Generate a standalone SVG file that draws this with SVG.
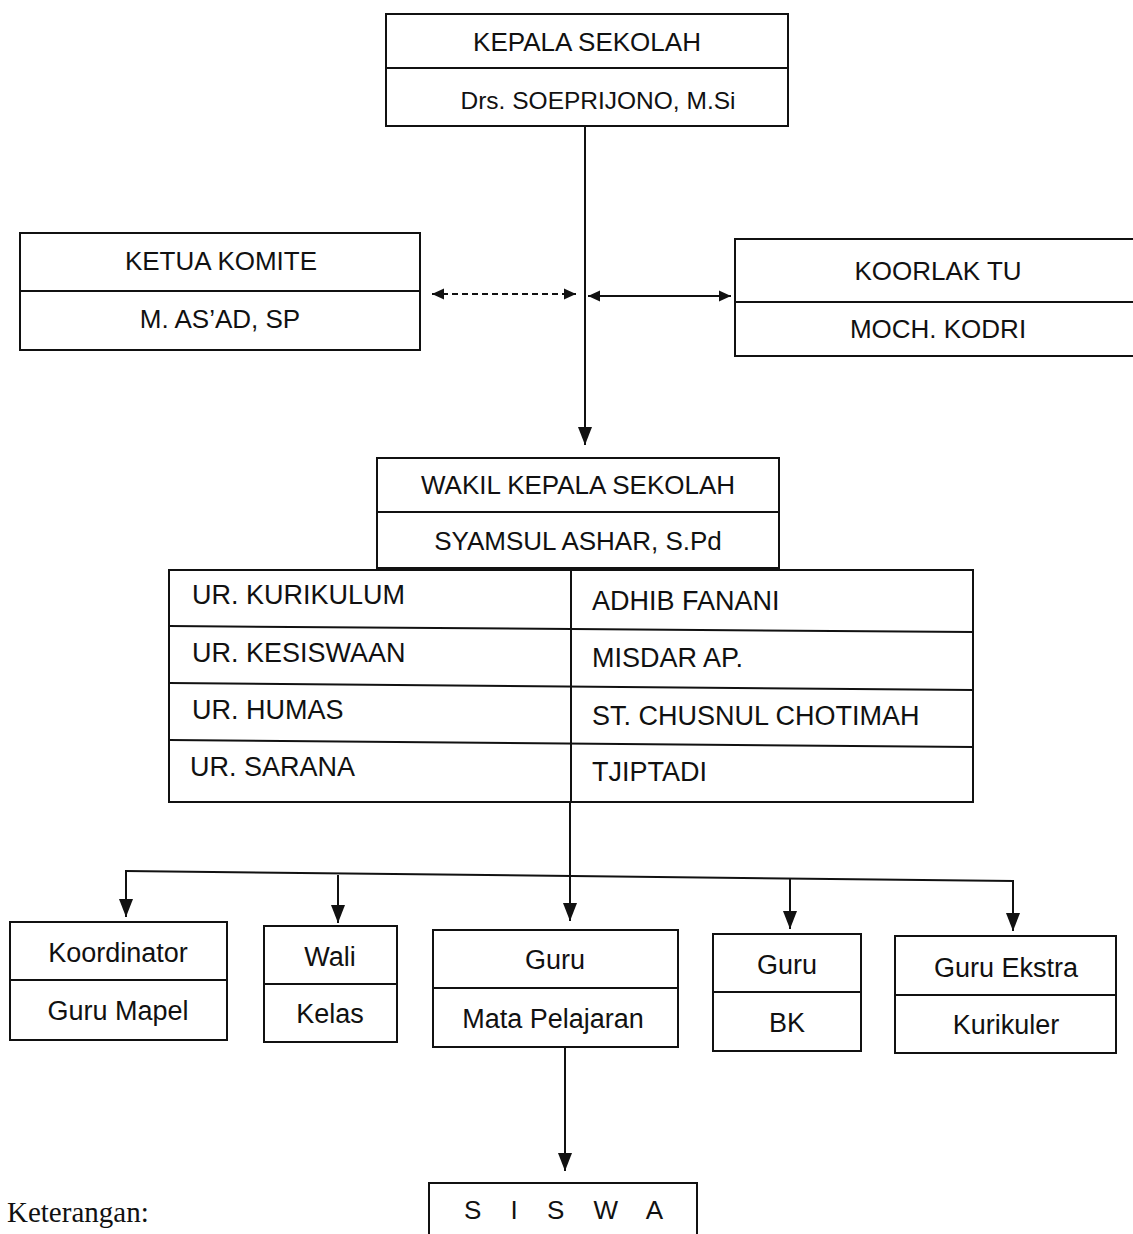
<svg xmlns="http://www.w3.org/2000/svg" width="1133" height="1234" viewBox="0 0 1133 1234">
<style>
.box{fill:#fff;stroke:#111;stroke-width:2}
.div{stroke:#111;stroke-width:2}
.t{font-family:"Liberation Sans",Arial,sans-serif;font-size:26px;fill:#111;text-anchor:middle}
.tb{font-family:"Liberation Sans",Arial,sans-serif;font-size:27px;fill:#111;text-anchor:middle}
.tl{font-family:"Liberation Sans",Arial,sans-serif;font-size:27px;fill:#111}
.c{stroke:#111;stroke-width:2;fill:none}
.d{stroke:#111;stroke-width:2;fill:none;stroke-dasharray:6 4}
</style>
<defs>
<marker id="ah" viewBox="0 0 12 12" refX="12" refY="6" markerWidth="12" markerHeight="12" markerUnits="userSpaceOnUse" orient="auto-start-reverse">
<path d="M0,0.5 L12,6 L0,11.5 Z" fill="#111"/>
</marker>
<marker id="ahd" viewBox="0 0 18 14" refX="18" refY="7" markerWidth="18" markerHeight="14" markerUnits="userSpaceOnUse" orient="auto">
<path d="M0,0 L18,7 L0,14 Z" fill="#111"/>
</marker>
</defs>
<rect width="1133" height="1234" fill="#fff"/>
<g id="connectors">
<line class="c" x1="585" y1="126" x2="585" y2="445" marker-end="url(#ahd)"/>
<line class="d" x1="432" y1="294" x2="576" y2="294" marker-start="url(#ah)" marker-end="url(#ah)"/>
<line class="c" x1="588" y1="296" x2="731" y2="296" marker-start="url(#ah)" marker-end="url(#ah)"/>
<line class="c" x1="570" y1="802" x2="570" y2="921" marker-end="url(#ahd)"/>
<line class="c" x1="125" y1="871" x2="1014" y2="881"/>
<line class="c" x1="126" y1="870" x2="126" y2="917" marker-end="url(#ahd)"/>
<line class="c" x1="338" y1="875" x2="338" y2="923" marker-end="url(#ahd)"/>
<line class="c" x1="790" y1="879" x2="790" y2="929" marker-end="url(#ahd)"/>
<line class="c" x1="1013" y1="880" x2="1013" y2="931" marker-end="url(#ahd)"/>
<line class="c" x1="565" y1="1047" x2="565" y2="1171" marker-end="url(#ahd)"/>
</g>
<g id="kepala">
<rect class="box" x="386" y="14" width="402" height="112"/>
<line class="div" x1="386" y1="68" x2="788" y2="68"/>
<text class="t" x="587" y="51">KEPALA SEKOLAH</text>
<text class="t" x="598" y="109" style="font-size:24.5px">Drs. SOEPRIJONO, M.Si</text>
</g>
<g id="komite">
<rect class="box" x="20" y="233" width="400" height="117"/>
<line class="div" x1="20" y1="291" x2="420" y2="291"/>
<text class="t" x="221" y="270">KETUA KOMITE</text>
<text class="t" x="220" y="328">M. AS’AD, SP</text>
</g>
<g id="koorlak">
<rect class="box" x="735" y="239" width="410" height="117"/>
<line class="div" x1="735" y1="302" x2="1145" y2="302"/>
<text class="t" x="938" y="280">KOORLAK TU</text>
<text class="t" x="938" y="338">MOCH. KODRI</text>
</g>
<g id="wakil">
<rect class="box" x="377" y="458" width="402" height="110"/>
<line class="div" x1="377" y1="512" x2="779" y2="512"/>
<text class="t" x="578" y="494">WAKIL KEPALA SEKOLAH</text>
<text class="t" x="578" y="550">SYAMSUL ASHAR, S.Pd</text>
</g>
<g id="urusan">
<rect class="box" x="169" y="570" width="804" height="232"/>
<line class="div" x1="571" y1="570" x2="571" y2="802"/>
<line class="div" x1="169" y1="626" x2="973" y2="632"/>
<line class="div" x1="169" y1="683" x2="973" y2="690"/>
<line class="div" x1="169" y1="740" x2="973" y2="747"/>
<text class="tl" x="192" y="604">UR. KURIKULUM</text>
<text class="tl" x="192" y="662">UR. KESISWAAN</text>
<text class="tl" x="192" y="719">UR. HUMAS</text>
<text class="tl" x="190" y="776">UR. SARANA</text>
<text class="tl" x="592" y="610">ADHIB FANANI</text>
<text class="tl" x="592" y="667">MISDAR AP.</text>
<text class="tl" x="592" y="725">ST. CHUSNUL CHOTIMAH</text>
<text class="tl" x="592" y="781">TJIPTADI</text>
</g>
<g id="koordinator">
<rect class="box" x="10" y="922" width="217" height="118"/>
<line class="div" x1="10" y1="980" x2="227" y2="980"/>
<text class="tb" x="118" y="962">Koordinator</text>
<text class="tb" x="118" y="1020">Guru Mapel</text>
</g>
<g id="wali">
<rect class="box" x="264" y="926" width="133" height="116"/>
<line class="div" x1="264" y1="984" x2="397" y2="984"/>
<text class="tb" x="330" y="966">Wali</text>
<text class="tb" x="330" y="1023">Kelas</text>
</g>
<g id="gurump">
<rect class="box" x="433" y="930" width="245" height="117"/>
<line class="div" x1="433" y1="988" x2="678" y2="988"/>
<text class="tb" x="555" y="969">Guru</text>
<text class="tb" x="553" y="1028">Mata Pelajaran</text>
</g>
<g id="gurubk">
<rect class="box" x="713" y="934" width="148" height="117"/>
<line class="div" x1="713" y1="992" x2="861" y2="992"/>
<text class="tb" x="787" y="974">Guru</text>
<text class="tb" x="787" y="1032">BK</text>
</g>
<g id="ekstra">
<rect class="box" x="895" y="936" width="221" height="117"/>
<line class="div" x1="895" y1="995" x2="1116" y2="995"/>
<text class="tb" x="1006" y="977">Guru Ekstra</text>
<text class="tb" x="1006" y="1034">Kurikuler</text>
</g>
<g id="siswa">
<rect class="box" x="429" y="1183" width="268" height="60"/>
<text class="t" x="569" y="1219" style="letter-spacing:11px">S I S W A</text>
</g>
<text x="7" y="1222" style="font-family:'Liberation Serif','Times New Roman',serif;font-size:29px;fill:#111">Keterangan:</text>
</svg>
